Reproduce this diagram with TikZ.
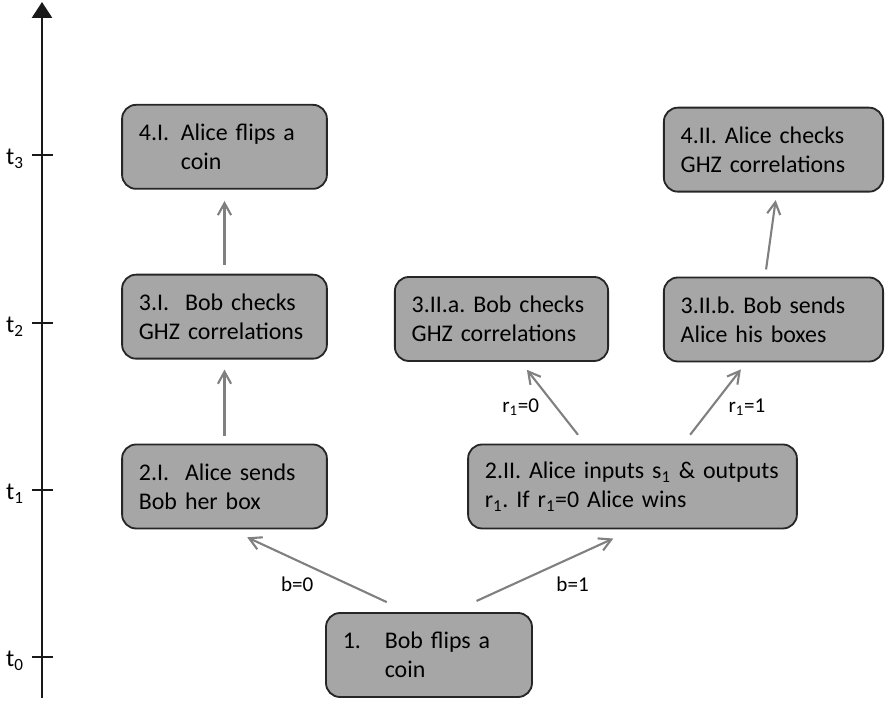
\documentclass[tikz,border=0pt]{standalone}
\usepackage{fontspec}
\setmainfont{Carlito}[WordSpace=0.85]
\usepackage{tikz}
\usetikzlibrary{arrows.meta,positioning}

\newcommand{\hangline}[3]{\makebox[1.05cm][l]{#1}#2\\\hspace*{1.05cm}#3}
\frenchspacing

\begin{document}
\begin{tikzpicture}[node distance={2.1cm},
    stagebox/.style = {draw=black!85, fill=black!35, line width=1.3pt, rounded corners=0.35cm,
        minimum height=2.1cm, inner xsep=0.42cm, align=left, text width=#1,
        font=\fontsize{17}{20.6}\selectfont},
    stagebox/.default = 4.28cm,
    flow/.style = {color=black!50, line width=1.5pt, -{Straight Barb[length=3mm,width=3.3mm]}},
    axisline/.style = {draw=black!90, line width=2pt},
    ticklabel/.style = {anchor=east, inner sep=0pt, font=\fontsize{17.4}{20.6}\selectfont},
    choice/.style = {text=black, font=\fontsize{15}{18}\selectfont}]
            \useasboundingbox (0,0) rectangle (22.125,17.525);

            % time axis
            \coordinate (tbot) at (1.05,0.075);
            \coordinate (ttop) at (1.05,17.475);
            \draw[axisline, -{Triangle[length=4mm,width=5mm]}] (tbot) -- (ttop);
            \foreach \y/\k in {1.1/0, 5.275/1, 9.45/2, 13.65/3} {
                \draw[axisline] (0.8,\y) -- (1.325,\y);
                \node[ticklabel] (t\k) at (0.6,\y-0.1) {t\textsubscript{\k}};
            }

            % stages
            \node[stagebox=4.31cm] (one) at (10.725,1.15) {\hangline{1.}{Bob flips a}{coin}};
            \node[stagebox] (twoI) at (5.6125,5.3625) {2.I.\ \ Alice sends\\Bob her box};
            \node[stagebox] (threeI) [above=of twoI] {3.I.\ \ Bob checks\\GHZ correlations};
            \node[stagebox] (fourI) [above=of threeI] {\hangline{4.I.}{Alice flips a}{coin}};
            \node[stagebox=7.38cm] (twoII) at (15.8125,5.3625)
                {\mbox{2.II. Alice inputs s\textsubscript{1} \& outputs}\\r\textsubscript{1}. If r\textsubscript{1}=0 Alice wins};
            \node[stagebox=4.49cm] (threeIIa) at (12.5375,9.55) {3.II.a. Bob checks\\GHZ correlations};
            \node[stagebox=4.64cm] (threeIIb) at (19.3375,9.5375) {3.II.b. Bob sends\\Alice his boxes};
            \node[stagebox=4.64cm] (fourII) [above=of threeIIb] {4.II. Alice checks\\GHZ correlations};

            % transitions
            \path[flow, shorten <=0.59cm, shorten >=0.47cm] ([xshift=-0.52cm]one.north) edge node[choice, below left] {b=0} ([xshift=0.14cm]twoI.south);
            \path[flow, shorten <=0.67cm, shorten >=0.55cm] ([xshift=0.58cm]one.north) edge node[choice, below right, xshift=0.2cm] {b=1} ([xshift=0.02cm]twoII.south);
            \path[flow, shorten <=0.18cm, shorten >=0.25cm] (twoI) edge (threeI);
            \path[flow, shorten <=0.22cm, shorten >=0.28cm] (threeI) edge (fourI);
            \path[flow, shorten <=0.28cm, shorten >=0.25cm] ([xshift=-1.19cm]twoII.north) edge node[choice, left, xshift=-0.2cm, yshift=-0.1cm] {r\textsubscript{1}=0} ([xshift=0.48cm]threeIIa.south);
            \path[flow, shorten <=0.28cm, shorten >=0.22cm] ([xshift=1.27cm]twoII.north) edge node[choice, right, xshift=0.2cm, yshift=-0.1cm] {r\textsubscript{1}=1} ([xshift=-0.68cm]threeIIb.south);
            \path[flow, shorten <=0.18cm, shorten >=0.19cm] ([xshift=-0.21cm]threeIIb.north) edge ([xshift=0.08cm]fourII.south);
\end{tikzpicture}
\end{document}
